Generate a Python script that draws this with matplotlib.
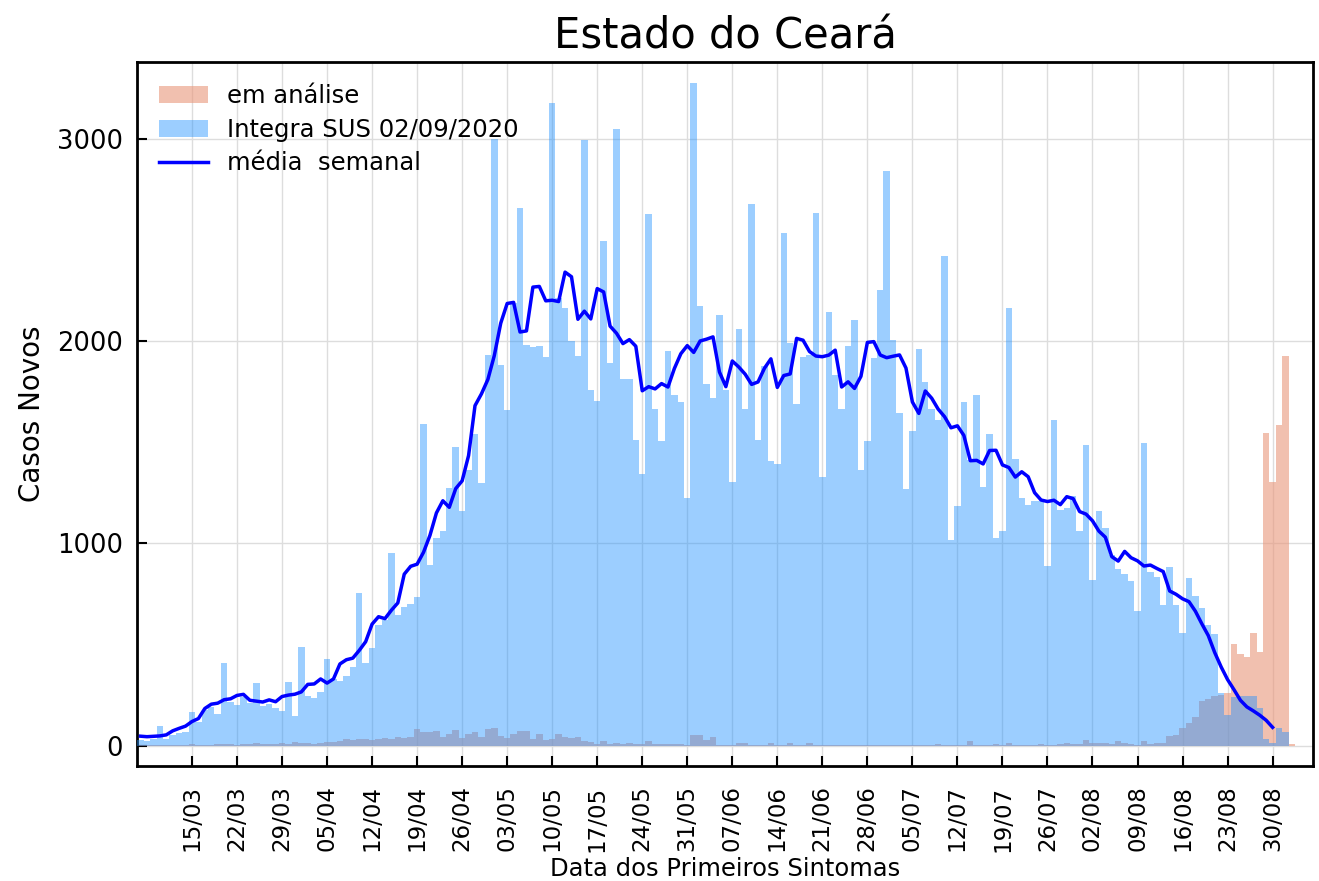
import numpy as np
import pandas as pd
import matplotlib
matplotlib.use('Agg')
import matplotlib.pyplot as plt
from matplotlib.patches import Patch
from matplotlib.lines import Line2D

# casos novos por data dos primeiros sintomas, a partir de 07/03/2020
inicio = '2020-03-07'

integra_sus = [
    30, 25, 35, 100, 35, 55, 62, 66, 165, 120,
    178, 194, 158, 410, 215, 200, 240, 210, 310, 195,
    205, 185, 170, 315, 145, 490, 245, 235, 265, 430,
    330, 318, 347, 389, 753, 411, 485, 597, 620, 955,
    646, 686, 702, 738, 1592, 892, 1028, 1060, 1272, 1475,
    1160, 1364, 1540, 1297, 1934, 3000, 1882, 1659, 2190, 2660,
    1980, 1972, 1975, 1920, 3175, 2213, 2162, 2000, 1927, 2993,
    1760, 1704, 2493, 1894, 3049, 1811, 1811, 1513, 1346, 2631,
    1665, 1507, 1954, 1733, 1697, 1227, 3275, 2173, 1788, 1719,
    2128, 1760, 1306, 2061, 1665, 2676, 1513, 1878, 1406, 1391,
    2535, 1990, 1688, 1923, 1934, 2636, 1328, 2144, 1833, 1665,
    1978, 2106, 1361, 1507, 1916, 2251, 2839, 2005, 1643, 1268,
    1558, 1961, 1797, 1665, 1610, 2419, 1017, 1183, 1697, 1413,
    1733, 1279, 1543, 1028, 1060, 2162, 1420, 1227, 1189, 1212,
    1212, 888, 1610, 1167, 1174, 1234, 1060, 1487, 820, 1163,
    1078, 943, 876, 850, 814, 668, 1498, 858, 836, 697,
    883, 697, 559, 827, 742, 682, 597, 552, 262, 153,
    240, 244, 244, 246, 186, 33, 16, 90, 67, 0,
]

em_analise = [
    3, 3, 4, 5, 3, 4, 5, 5, 8, 6,
    5, 6, 8, 10, 8, 6, 8, 10, 12, 10,
    8, 10, 12, 10, 21, 15, 12, 10, 14, 18,
    20, 25, 36, 30, 36, 33, 30, 35, 38, 33,
    43, 40, 45, 82, 66, 66, 71, 43, 59, 76,
    38, 59, 67, 43, 82, 87, 46, 38, 59, 74,
    71, 35, 59, 30, 35, 59, 43, 38, 43, 26,
    21, 10, 25, 10, 16, 10, 16, 10, 10, 25,
    8, 8, 8, 8, 8, 5, 53, 53, 30, 43,
    5, 5, 5, 16, 16, 5, 5, 5, 16, 5,
    5, 16, 5, 5, 16, 5, 5, 5, 5, 5,
    5, 5, 5, 5, 5, 5, 5, 5, 5, 5,
    5, 5, 5, 5, 10, 5, 5, 5, 5, 25,
    5, 5, 5, 10, 5, 16, 5, 5, 5, 5,
    10, 5, 5, 8, 16, 8, 10, 30, 16, 16,
    16, 10, 25, 13, 8, 5, 25, 10, 13, 16,
    46, 54, 87, 112, 142, 219, 232, 244, 252, 260,
    505, 452, 440, 557, 462, 1544, 1306, 1586, 1928, 8,
]

ultimo_dia_media = 176

dias = pd.date_range(inicio, periods=len(integra_sus), freq='D')
media = pd.Series(integra_sus).rolling(7, center=True, min_periods=1).mean()

fig = plt.figure(figsize=(13.19, 8.81), dpi=100)
ax = fig.add_axes([0.1039, 0.1305, 0.8916, 0.7991])

ax.bar(dias, em_analise, width=1.0, color='darksalmon', alpha=0.6, linewidth=0, zorder=2)
ax.bar(dias, integra_sus, width=1.0, color='dodgerblue', alpha=0.44, linewidth=0, zorder=3)
ax.plot(dias[:ultimo_dia_media + 1], media[:ultimo_dia_media + 1], color='blue', lw=2.5, zorder=4)

ax.set_xlim(pd.Timestamp('2020-03-06 11:00'), pd.Timestamp('2020-09-05 07:00'))
ax.set_ylim(-100, 3380)

semanas = pd.date_range('2020-03-15', '2020-08-30', freq='7D')
ax.set_xticks(semanas)
ax.set_xticklabels([d.strftime('%d/%m') for d in semanas], rotation=90, fontsize=16.5)
ax.set_yticks([0, 1000, 2000, 3000])
ax.tick_params(axis='y', labelsize=18.5, direction='in', length=7, width=1.5, pad=10)
ax.tick_params(axis='x', direction='in', length=7, width=1.5, pad=14)

ax.grid(True, color='#dddddd', lw=1)
ax.set_axisbelow(True)
for s in ax.spines.values():
    s.set_linewidth(2)

ax.set_title('Estado do Ceará', fontsize=30, pad=10)
ax.set_ylabel('Casos Novos', fontsize=20, labelpad=8)
ax.set_xlabel('Data dos Primeiros Sintomas', fontsize=17.5, labelpad=4)

handles = [
    Patch(facecolor='darksalmon', alpha=0.6),
    Patch(facecolor='dodgerblue', alpha=0.44),
    Line2D([0], [0], color='blue', lw=2.5),
]
labels = ['em análise', 'Integra SUS 02/09/2020', 'média  semanal']
ax.legend(handles, labels, loc='upper left', frameon=False, fontsize=17.5,
          handlelength=2.0, labelspacing=0.4)

fig.savefig('out.png', dpi=100)
